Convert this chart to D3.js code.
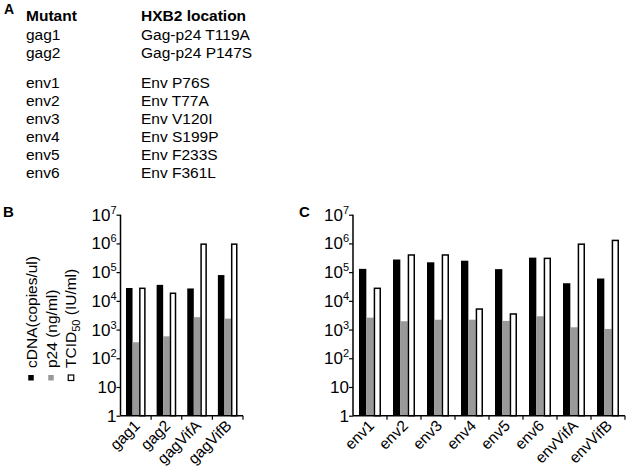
<!DOCTYPE html>
<html><head><meta charset="utf-8">
<script src="https://cdn.jsdelivr.net/npm/d3@7"></script>
<style>
html,body{margin:0;padding:0;background:#fff;}
svg{display:block;font-family:"Liberation Sans",Arial,Helvetica,sans-serif;}
</style></head>
<body>
<svg id="chart" width="630" height="467"></svg>
<script>
// ---- Panel A table ----
const mutants = ["gag1","gag2","env1","env2","env3","env4","env5","env6"];
const locations = ["Gag-p24 T119A","Gag-p24 P147S","Env P76S","Env T77A","Env V120I","Env S199P","Env F233S","Env F361L"];

// ---- Series ----
const seriesNames = ["cDNA","p24","TCID50"];
const legendLabels = ["cDNA(copies/ul)","p24 (ng/ml)","TCID"];

// Panel B
const catsB = ["gag1","gag2","gagVifA","gagVifB"];
const cdnaB = [28000, 36000, 27000, 79000];
const p24B  = [360, 580, 2700, 2400];
const tcidB = [29000, 19500, 1000000, 1000000];

// Panel C
const catsC = ["env1","env2","env3","env4","env5","env6","envVifA","envVifB"];
const cdnaC = [130000, 275000, 220000, 250000, 127000, 320000, 41000, 60000];
const p24C  = [2600, 1950, 2200, 2200, 2000, 2900, 1200, 1050];
const tcidC = [29000, 420000, 420000, 5500, 3700, 320000, 1000000, 1350000];

// y ticks
const yTicks = [1,10,100,1000,10000,100000,1000000,10000000];

const svg = d3.select("#chart");
const fills = ["#000000","#999999","#ffffff"];

// Panel A
svg.append("text").attr("x",4).attr("y",14).attr("font-size",14).attr("font-weight","bold").text("A");
svg.append("text").attr("x",26).attr("y",21).attr("font-size",15.5).attr("font-weight","bold").text("Mutant");
svg.append("text").attr("x",141).attr("y",21).attr("font-size",15.5).attr("font-weight","bold").text("HXB2 location");
const rowY = [39.5,57.5,87.5,105.5,123.5,141.5,159.5,177.5];
mutants.forEach((m,i)=>{
  svg.append("text").attr("x",26).attr("y",rowY[i]).attr("font-size",15.5).text(m);
  svg.append("text").attr("x",141).attr("y",rowY[i]).attr("font-size",15.5).text(locations[i]);
});

// Panel labels
svg.append("text").attr("x",3).attr("y",217).attr("font-size",15).attr("font-weight","bold").text("B");
svg.append("text").attr("x",299).attr("y",217).attr("font-size",15).attr("font-weight","bold").text("C");

const y = d3.scaleLog().domain([1,1e7]).range([415.7,214.7]);

function panel(x0, x1, cats, data, pad){
  const g = svg.append("g");
  const xb = d3.scaleBand().domain(cats).range([x0,x1]).padding(0);
  const xi = d3.scaleBand().domain(seriesNames).range([pad, xb.bandwidth()-pad]).padding(0);
  cats.forEach((c,ci)=>{
    seriesNames.forEach((s,si)=>{
      const v = data[si][ci];
      const white = si===2;
      const bx = xb(c)+xi(s);
      g.append("rect")
        .attr("x", white ? bx+0.75 : bx)
        .attr("y", y(v) + (white?0.75:0))
        .attr("width", white ? xi.bandwidth()-1.5 : xi.bandwidth())
        .attr("height", y(1)-y(v) - (white?0.75:0))
        .attr("fill", fills[si])
        .attr("stroke", white ? "#000" : "none")
        .attr("stroke-width", white ? 1.5 : 0);
    });
  });
  // y axis
  const ya = d3.axisLeft(y).tickValues(yTicks).tickSize(4).tickFormat(()=> "");
  const yg = g.append("g").attr("transform",`translate(${x0},0)`).call(ya);
  yg.select(".domain").attr("stroke","#000").attr("stroke-width",1.5).attr("d",`M0,${y(1e7)}V${y(1)}`);
  yg.selectAll(".tick line").attr("stroke","#000").attr("stroke-width",1.2);
  yTicks.forEach(t=>{
    const e = Math.round(Math.log10(t));
    const tx = g.append("text").attr("x",x0-4).attr("y",y(t)+6).attr("text-anchor","end").attr("font-size",17);
    if (e<=1) { tx.text(String(t)); }
    else {
      tx.append("tspan").text("10");
      tx.append("tspan").attr("font-size",11).attr("dy",-7).text(String(e));
    }
  });
  // x axis
  g.append("line").attr("x1",x0).attr("x2",x1).attr("y1",y(1)).attr("y2",y(1)).attr("stroke","#000").attr("stroke-width",1.5);
  cats.forEach((c,ci)=>{
    const bx = xb(c)+xb.bandwidth();
    g.append("line").attr("x1",bx).attr("x2",bx).attr("y1",y(1)).attr("y2",y(1)+4).attr("stroke","#000").attr("stroke-width",1.2);
    const cx = xb(c)+xb.bandwidth()/2;
    g.append("text").attr("text-anchor","end").attr("font-size",15.5)
      .attr("transform",`translate(${cx+5},${y(1)+11}) rotate(-45)`).text(c);
  });
}

panel(120.5, 243, catsB, [cdnaB,p24B,tcidB], 5.5);
panel(353, 625, catsC, [cdnaC,p24C,tcidC], 6);

// legend (rotated)
const legX = [37, 56.5, 76];
const sqX = [31, 51, 71];
legendLabels.forEach((l,i)=>{
  const t = svg.append("text").attr("font-size",15.5)
    .attr("transform",`translate(${legX[i]},368) rotate(-90)`);
  t.append("tspan").text(l);
  if (i===2){
    t.append("tspan").attr("font-size",11).attr("dy",4).text("50");
    t.append("tspan").attr("dy",-4).text(" (IU/ml)");
  }
  svg.append("rect").attr("x",sqX[i]-2.75).attr("y",375).attr("width",5.5).attr("height",5.5)
    .attr("fill",fills[i]).attr("stroke", i===2?"#000":"none").attr("stroke-width",1.2);
});
</script>
</body></html>
